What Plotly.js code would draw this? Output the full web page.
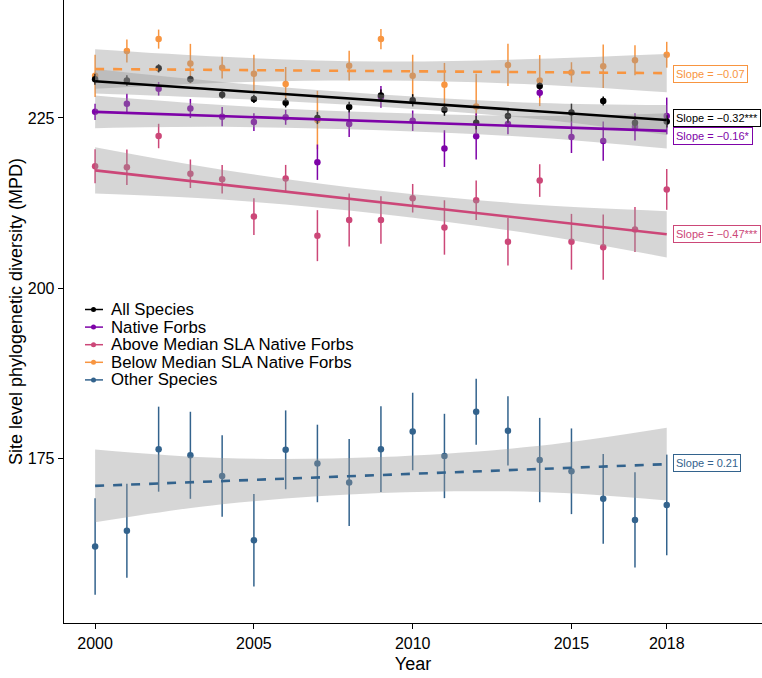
<!DOCTYPE html>
<html>
<head>
<meta charset="utf-8">
<script src="https://cdn.plot.ly/plotly-3.0.1.min.js"></script>
<style>
  html, body { margin: 0; padding: 0; background: #fff; }
  #chart { width: 762px; height: 678px; }
</style>
</head>
<body>
<div id="chart"></div>
<script>
// years sampled
var years = [2000, 2001, 2002, 2003, 2004, 2005, 2006, 2007, 2008, 2009,
             2010, 2011, 2012, 2013, 2014, 2015, 2016, 2017, 2018];

// mean MPD per year
var allSpecies = [230.7, 230.5, 232.3, 230.7, 228.4, 227.8, 227.25, 225.0, 226.6, 228.3,
                  227.6, 226.2, 224.3, 225.3, 229.7, 225.8, 227.5, 224.3, 224.5];
var nativeForbs = [225.9, 227.1, 229.3, 226.4, 225.2, 224.4, 225.1, 218.5, 224.1, 228.1,
                   224.6, 220.5, 222.3, 224.1, 228.7, 222.2, 221.6, 223.7, 225.3];
var aboveSLA = [217.9, 217.75, 222.35, 216.8, 216.0, 210.5, 216.1, 207.7, 210.0, 210.0,
                213.2, 208.9, 212.9, 206.8, 215.8, 206.8, 206.0, 208.6, 214.5];
var belowSLA = [231.2, 234.85, 236.6, 233.0, 232.4, 231.5, 230.0, 224.7, 232.7, 236.6,
                231.2, 229.9, 226.7, 232.8, 230.5, 231.7, 232.6, 233.5, 234.3];
var otherSpecies = [162.0, 164.3, 176.3, 175.4, 172.35, 162.9, 176.2, 174.2, 171.4, 176.3,
                    178.9, 175.3, 181.8, 179.0, 174.7, 173.05, 169.0, 165.9, 168.1];

// error bar half-widths
var allErr = [0.8, 0.8, 0.6, 0.5, 0.55, 0.6, 0.7, 0.9, 0.8, 0.9, 0.9, 0.9, 1.0, 1.0, 0.5, 1.3, 0.65, 1.0, 0.9];
var nativeErr = [1.2, 1.45, 1.0, 1.4, 1.4, 1.3, 1.1, 2.6, 1.9, 1.6, 1.5, 2.7, 3.4, 1.5, 0.7, 2.35, 2.9, 2.0, 2.7];
var aboveErr = [2.5, 2.6, 1.8, 2.1, 2.1, 2.7, 2.0, 3.75, 3.9, 3.5, 2.1, 4.0, 2.9, 3.5, 2.4, 4.1, 4.8, 3.3, 3.0];
var belowErr = [3.1, 1.7, 1.4, 2.9, 1.6, 2.8, 2.5, 4.3, 2.2, 1.5, 3.1, 3.2, 4.8, 3.1, 3.75, 1.5, 3.2, 2.2, 1.9];
var otherErr = [7.1, 6.9, 6.25, 6.4, 6.0, 6.8, 5.8, 5.7, 6.4, 6.3, 5.7, 6.2, 4.85, 5.1, 6.2, 6.3, 6.6, 7.0, 7.4];

// fitted trend lines (ends) and confidence bands
var fitYears = [2000, 2018];
var allFit = [230.4, 224.7];
var nativeFit = [225.9, 223.1];
var aboveFit = [217.3, 207.9];
var belowFit = [232.2, 231.6];
var otherFit = [170.9, 174.1];

var bandYears = [2000, 2004, 2009, 2014, 2018];
var allUp = [232.2, 230.3, 228.45, 227.2, 226.9];
var allLo = [228.6, 227.9, 226.65, 224.8, 222.5];
var nativeUp = [228.3, 226.9, 225.8, 225.3, 225.7];
var nativeLo = [223.5, 223.7, 223.2, 222.1, 220.5];
var aboveUp = [220.7, 217.4, 214.3, 212.2, 211.3];
var aboveLo = [213.9, 213.0, 210.9, 207.8, 204.5];
var belowUp = [235.1, 234.0, 233.3, 233.7, 234.4];
var belowLo = [229.3, 230.2, 230.5, 229.9, 228.8];
var otherUp = [176.25, 175.0, 175.15, 176.8, 179.45];
var otherLo = [165.55, 168.2, 169.85, 170.0, 168.75];

var groupNames = ["All Species", "Native Forbs", "Above Median SLA Native Forbs",
                  "Below Median SLA Native Forbs", "Other Species"];
var slopeLabels = ["Slope = \u22120.32***", "Slope = \u22120.16*", "Slope = \u22120.47***",
                   "Slope = \u22120.07", "Slope = 0.21"];
var labelY = [225.0, 222.35, 207.9, 231.4, 174.2];

var colors = ["#000000", "#7E03A8", "#CC4778", "#F89540", "#33638D"];
var dashes = ["solid", "solid", "solid", "dash", "dash"];

var means = [allSpecies, nativeForbs, aboveSLA, belowSLA, otherSpecies];
var errs = [allErr, nativeErr, aboveErr, belowErr, otherErr];
var fits = [allFit, nativeFit, aboveFit, belowFit, otherFit];
var ups = [allUp, nativeUp, aboveUp, belowUp, otherUp];
var los = [allLo, nativeLo, aboveLo, belowLo, otherLo];

var traces = [];
var bandFill = "rgba(153,153,153,0.4)";

// points + error bars, black drawn last so it sits on top
var order = [4, 3, 2, 1, 0];
order.forEach(function (i) {
  traces.push({
    x: years, y: means[i],
    type: "scatter", mode: "markers",
    marker: {color: colors[i], size: 6.5},
    error_y: {type: "data", array: errs[i], visible: true, color: colors[i], thickness: 1.5, width: 0},
    showlegend: false, hoverinfo: "x+y"
  });
});

// confidence bands, then trend lines
order.forEach(function (i) {
  traces.push({
    x: bandYears, y: los[i], type: "scatter", mode: "lines",
    line: {width: 0, shape: "spline"}, showlegend: false, hoverinfo: "skip"
  });
  traces.push({
    x: bandYears, y: ups[i], type: "scatter", mode: "lines",
    line: {width: 0, shape: "spline"}, fill: "tonexty", fillcolor: bandFill,
    showlegend: false, hoverinfo: "skip"
  });
});
order.forEach(function (i) {
  traces.push({
    x: fitYears, y: fits[i], type: "scatter", mode: "lines",
    line: {color: colors[i], width: 2.6, dash: dashes[i]},
    showlegend: false, hoverinfo: "skip"
  });
});

var annotations = slopeLabels.map(function (txt, i) {
  return {
    x: 2018.2, y: labelY[i], xref: "x", yref: "y",
    xanchor: "left", yanchor: "middle",
    text: txt, showarrow: false,
    font: {family: "Liberation Sans, Arial, sans-serif", size: 11, color: colors[i]},
    bgcolor: "#ffffff", bordercolor: colors[i], borderwidth: 1, borderpad: 2
  };
});

// legend drawn by hand to get ggplot's tight row spacing
var shapes = [];
var plotW = 698, plotH = 623;
groupNames.forEach(function (name, i) {
  var py = 309.5 + i * 17.6;
  var yp = 1 - py / plotH;
  annotations.push({
    x: (109 - 64) / plotW, y: yp, xref: "paper", yref: "paper",
    xanchor: "left", yanchor: "middle", showarrow: false,
    text: name, font: {size: 16.8, color: "#000"}
  });
  shapes.push({
    type: "line", xref: "paper", yref: "paper",
    x0: (85 - 64) / plotW, x1: (103 - 64) / plotW, y0: yp, y1: yp,
    line: {color: colors[i], width: 1.5}
  });
  shapes.push({
    type: "circle", xref: "paper", yref: "paper",
    x0: (91 - 64) / plotW, x1: (96 - 64) / plotW,
    y0: yp - 2.5 / plotH, y1: yp + 2.5 / plotH,
    fillcolor: colors[i], line: {width: 0}
  });
});

var layout = {
  width: 762, height: 678,
  margin: {l: 64, r: 0, t: 0, b: 55},
  paper_bgcolor: "#ffffff", plot_bgcolor: "#ffffff",
  font: {family: "Liberation Sans, Arial, sans-serif", color: "#000000"},
  xaxis: {
    range: [1999.02, 2021.0],
    tickvals: [2000, 2005, 2010, 2015, 2018],
    ticks: "outside", ticklen: 5, tickwidth: 1, tickcolor: "#000",
    showline: true, linecolor: "#000", linewidth: 1.3,
    showgrid: false, zeroline: false,
    tickfont: {size: 16, color: "#000"},
    title: {text: "Year", font: {size: 18, color: "#000"}, standoff: 7}
  },
  yaxis: {
    range: [150.74, 242.35],
    tickvals: [175, 200, 225],
    ticks: "outside", ticklen: 5, tickwidth: 1, tickcolor: "#000",
    showline: true, linecolor: "#000", linewidth: 1.3,
    showgrid: false, zeroline: false,
    tickfont: {size: 16, color: "#000"},
    title: {text: "Site level phylogenetic diversity (MPD)", font: {size: 18, color: "#000"}, standoff: 0}
  },
  annotations: annotations,
  shapes: shapes,
  showlegend: false
};

Plotly.newPlot("chart", traces, layout, {displayModeBar: false, staticPlot: true});
</script>
</body>
</html>
